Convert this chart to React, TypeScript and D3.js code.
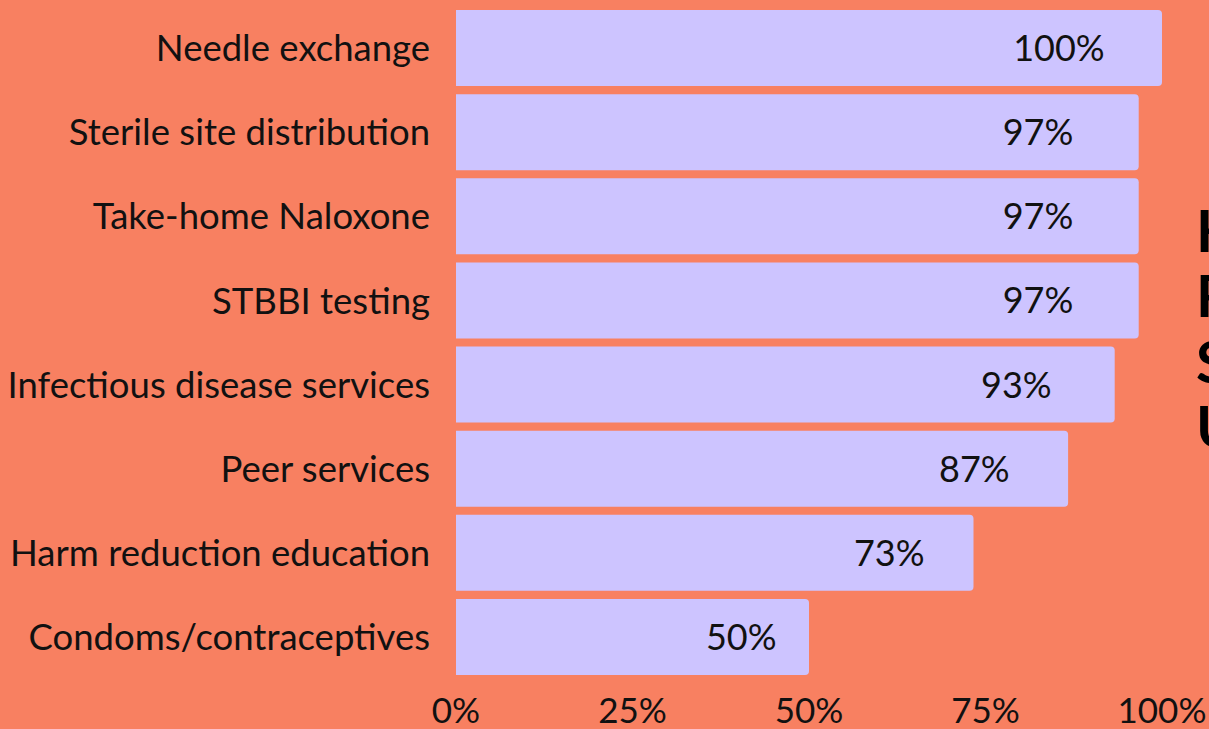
import React from "react";
import * as d3 from "d3";

const categories = [
  "Needle exchange",
  "Sterile site distribution",
  "Take-home Naloxone",
  "STBBI testing",
  "Infectious disease services",
  "Peer services",
  "Harm reduction education",
  "Condoms/contraceptives",
];
const values = [100, 96.7, 96.7, 96.7, 93.3, 86.7, 73.3, 50];
const xTicks = [0, 25, 50, 75, 100];
const titleLines = ["Harm", "Reduction", "Services", "Used"];

const W = 1209;
const H = 729;
const BG = "#F88061";
const BAR = "#CDC4FF";
const FONT = "Lato, 'Open Sans', sans-serif";

function roundedRight(x: number, y: number, w: number, h: number, r: number) {
  const rr = Math.min(r, w / 2, h / 2);
  return `M${x},${y}H${x + w - rr}A${rr},${rr} 0 0 1 ${x + w},${y + rr}V${y + h - rr}A${rr},${rr} 0 0 1 ${x + w - rr},${y + h}H${x}Z`;
}

export default function App() {
  const x = d3.scaleLinear().domain([0, 100]).range([456, 1162]);
  const y = d3
    .scaleBand<string>()
    .domain(categories)
    .range([5.93, 679.07])
    .paddingInner(0.0967)
    .paddingOuter(0.0484);
  const fmt = (v: number) => d3.format(".0f")(v) + "%";
  return (
    <svg
      width={W}
      height={H}
      style={{ position: "absolute", left: 0, top: 0, display: "block" }}
    >
      <rect x={0} y={0} width={W} height={H} fill={BG} />
      {categories.map((c, i) => {
        const y0 = y(c)!;
        const bw = y.bandwidth();
        const cy = y0 + bw / 2;
        const v = values[i];
        return (
          <g key={c}>
            <path d={roundedRight(x(0), y0, x(v) - x(0), bw, 4)} fill={BAR} />
            <text
              x={x(0) - 26}
              y={cy}
              dy="0.36em"
              textAnchor="end"
              fontFamily={FONT}
              fontSize={36.5}
              fill="#111"
            >
              {c}
            </text>
            <text
              x={x(0.9 * v - 4.6)}
              y={cy}
              dy="0.36em"
              textAnchor="middle"
              fontFamily={FONT}
              fontSize={36}
              fill="#111"
            >
              {fmt(v)}
            </text>
          </g>
        );
      })}
      {xTicks.map((t) => (
        <text
          key={t}
          x={x(t)}
          y={723}
          textAnchor="middle"
          fontFamily={FONT}
          fontSize={35}
          fill="#111"
        >
          {t + "%"}
        </text>
      ))}
      <text fontFamily={FONT} fontWeight={700} fontSize={58} fill="#000">
        {titleLines.map((l, i) => (
          <tspan key={l} x={1196} y={252 + i * 65.3}>
            {l}
          </tspan>
        ))}
      </text>
    </svg>
  );
}
